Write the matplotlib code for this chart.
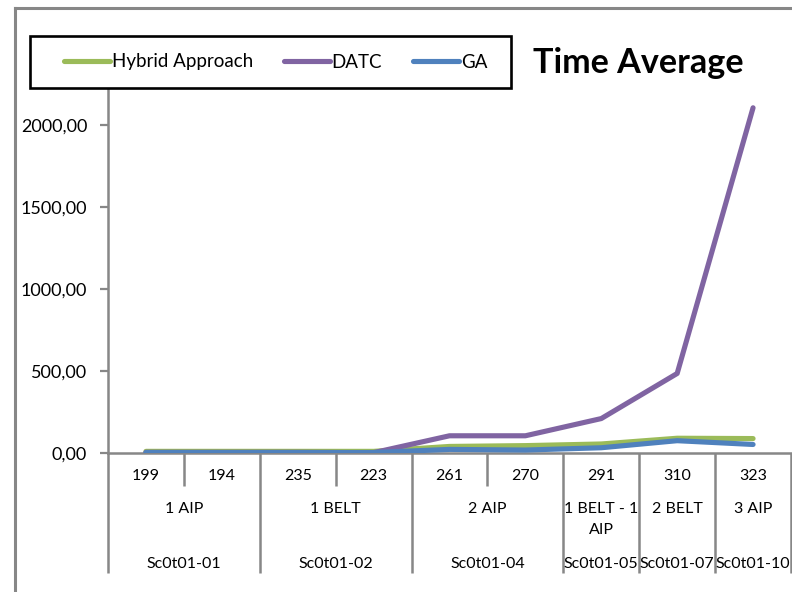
import matplotlib.pyplot as plt
from matplotlib.lines import Line2D
from matplotlib.patches import Rectangle
from matplotlib.transforms import blended_transform_factory

plt.rcParams['font.family'] = ['Lato', 'DejaVu Sans']

# run sizes, load labels and scenario names along the category axis
sizes = ['199', '194', '235', '223', '261', '270', '291', '310', '323']
loads = [('1 AIP', 0, 1), ('1 BELT', 2, 3), ('2 AIP', 4, 5),
         ('1 BELT - 1\nAIP', 6, 6), ('2 BELT', 7, 7), ('3 AIP', 8, 8)]
scenarios = [('Sc0t01-01', 0, 1), ('Sc0t01-02', 2, 3), ('Sc0t01-04', 4, 5),
             ('Sc0t01-05', 6, 6), ('Sc0t01-07', 7, 7), ('Sc0t01-10', 8, 8)]

hybrid = [10, 10, 10, 10, 40, 45, 55, 90, 88]
datc = [4, 4, 4, 2, 105, 105, 210, 485, 2105]
ga = [3, 3, 3, 3, 22, 18, 32, 75, 52]

series = [('Hybrid Approach', hybrid, '#9BBB59'),
          ('DATC', datc, '#8064A2'),
          ('GA', ga, '#4F81BD')]

axis_grey = '#878787'
cat_fs = 11.5

fig = plt.figure(figsize=(7.92, 5.92), dpi=100)
ax = fig.add_axes([108 / 792, 139 / 592, 683 / 792, 410 / 592])

x = list(range(len(sizes)))
handles = []
for name, vals, col in series:
    h, = ax.plot(x, vals, color=col, lw=3.7, solid_capstyle='round',
                 label=name, zorder=3)
    handles.append(h)

ax.set_xlim(-0.5, len(sizes) - 0.5)
ax.set_ylim(0, 2500)
ax.set_yticks([0, 500, 1000, 1500, 2000])
ax.set_yticklabels(['0,00', '500,00', '1000,00', '1500,00', '2000,00'])
ax.tick_params(axis='y', direction='out', length=6, width=1.6,
               color=axis_grey, labelsize=13, pad=9)
ax.set_xticks([])
for side in ['top', 'right']:
    ax.spines[side].set_visible(False)
for side in ['left', 'bottom']:
    ax.spines[side].set_color(axis_grey)
    ax.spines[side].set_linewidth(1.8)

# multi-level category axis below the plot
tr = blended_transform_factory(ax.transData, ax.transAxes)
for i, s in enumerate(sizes):
    ax.text(i, -0.057, s, transform=tr, ha='center', va='center',
            fontsize=cat_fs)
for name, a, b in loads:
    if '\n' in name:
        first, second = name.split('\n')
        ax.text((a + b) / 2, -0.136, first, transform=tr, ha='center',
                va='center', fontsize=cat_fs)
        ax.text((a + b) / 2, -0.187, second, transform=tr, ha='center',
                va='center', fontsize=cat_fs)
    else:
        ax.text((a + b) / 2, -0.136, name, transform=tr, ha='center',
                va='center', fontsize=cat_fs)
for name, a, b in scenarios:
    ax.text((a + b) / 2, -0.27, name, transform=tr, ha='center',
            va='center', fontsize=cat_fs)

group_edges = {-0.5}
for name, a, b in scenarios:
    group_edges.add(b + 0.5)
for i in range(len(sizes) + 1):
    edge = i - 0.5
    low = -0.293 if edge in group_edges else -0.081
    ax.plot([edge, edge], [0, low], transform=tr, color=axis_grey, lw=1.8,
            clip_on=False, solid_capstyle='butt')

# chart border, legend box and title
fig.add_artist(Line2D([15 / 792, 15 / 792], [0, 584 / 592], color=axis_grey,
                      lw=2.2, transform=fig.transFigure))
fig.add_artist(Line2D([15 / 792, 1], [584 / 592, 584 / 592], color=axis_grey,
                      lw=2.2, transform=fig.transFigure))
fig.add_artist(Rectangle((30 / 792, 504 / 592), 481 / 792, 52 / 592,
                         transform=fig.transFigure, facecolor='white',
                         edgecolor='black', lw=1.9, zorder=5))
leg = fig.legend(handles=handles, loc='center left', ncol=3,
                 bbox_to_anchor=(47 / 792, 530 / 592), frameon=False,
                 fontsize=13.5, handlelength=2.45, handletextpad=0.1,
                 columnspacing=1.65)
leg.set_zorder(6)
fig.text(533 / 792, 529 / 592, 'Time Average', fontsize=24.6,
         fontweight='bold', ha='left', va='center')

fig.savefig('out.png', dpi=100)
